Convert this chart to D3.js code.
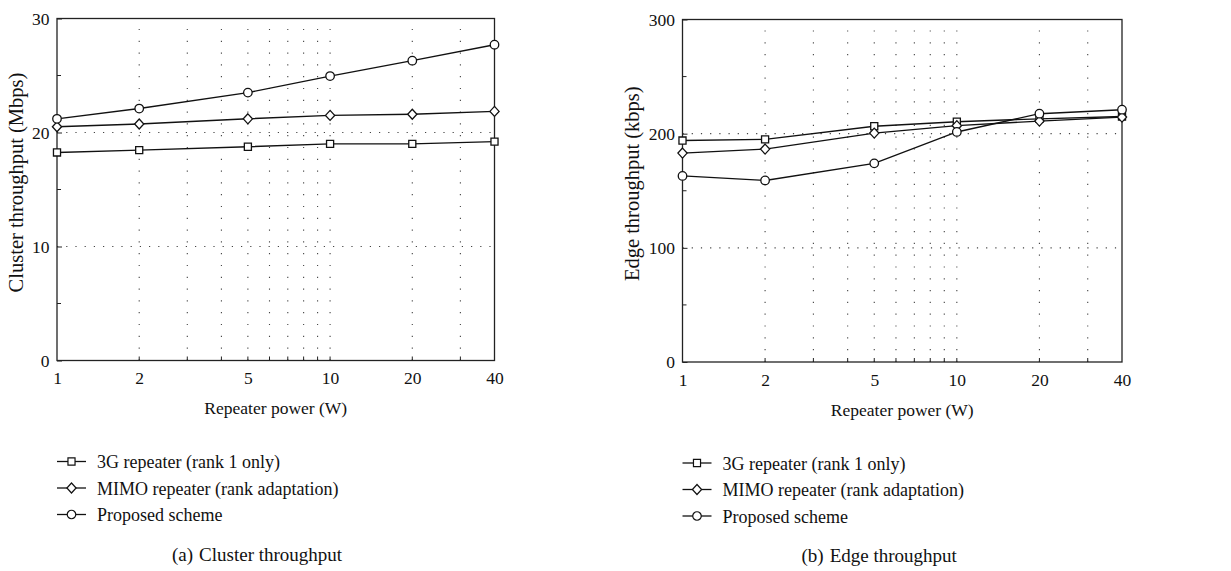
<!DOCTYPE html>
<html>
<head>
<meta charset="utf-8">
<script src="https://cdn.jsdelivr.net/npm/d3@7"></script>
<style>
  body { margin: 0; background: #fff; }
  svg { display: block; font-family: "Liberation Serif", "DejaVu Serif", serif; }
</style>
</head>
<body>
<svg id="chart" width="1231" height="571"></svg>
<script>
// repeater power (W)
var power = [1, 2, 5, 10, 20, 40];
var xTicks = [1, 2, 5, 10, 20, 40];
var xGrid = [2, 3, 4, 5, 6, 7, 8, 9, 10, 20, 30];

var seriesNames = ['3G repeater (rank 1 only)', 'MIMO repeater (rank adaptation)', 'Proposed scheme'];
var seriesSymbols = ['square', 'diamond', 'circle'];

// (a) cluster throughput, Mbps
var cluster3G = [18.25, 18.45, 18.75, 19.0, 19.0, 19.2];
var clusterMIMO = [20.5, 20.75, 21.2, 21.5, 21.6, 21.85];
var clusterProposed = [21.2, 22.1, 23.5, 24.95, 26.3, 27.7];
var clusterTicks = [0, 10, 20, 30];
var clusterMinor = [5, 15, 25];

// (b) edge throughput, kbps
var edge3G = [194, 195, 206.5, 210.5, 213, 215];
var edgeMIMO = [183, 186.5, 200.5, 207, 211, 214.5];
var edgeProposed = [163, 159, 174, 201.5, 217.5, 221];
var edgeTicks = [0, 100, 200, 300];
var edgeMinor = [50, 150, 250];

var svg = d3.select('#chart');

function symbolPath(type) {
  if (type === 'square') return d3.symbol().type(d3.symbolSquare).size(50)();
  if (type === 'diamond') return 'M0,-5L4.6,0L0,5L-4.6,0Z';
  return d3.symbol().type(d3.symbolCircle).size(57)();
}

function panel(opts) {
  var g = svg.append('g');
  var x = d3.scaleLog().domain([1, 40]).range([opts.left, opts.right]);
  var y = d3.scaleLinear().domain([opts.yTicks[0], opts.yTicks[opts.yTicks.length - 1]])
    .range([opts.bottom, opts.top]);

  // dotted grid
  g.append('g').selectAll('line').data(xGrid).enter().append('line')
    .attr('x1', d => x(d)).attr('x2', d => x(d))
    .attr('y1', opts.bottom).attr('y2', opts.top)
    .attr('stroke', '#444').attr('stroke-width', 1.1)
    .attr('stroke-dasharray', '1.2,10.6');
  g.append('g').selectAll('line').data(opts.yTicks.slice(1, -1)).enter().append('line')
    .attr('x1', opts.left).attr('x2', opts.right)
    .attr('y1', d => y(d)).attr('y2', d => y(d))
    .attr('stroke', '#444').attr('stroke-width', 1.1)
    .attr('stroke-dasharray', '1.2,8');

  // frame
  g.append('rect')
    .attr('x', opts.left).attr('y', opts.top)
    .attr('width', opts.right - opts.left).attr('height', opts.bottom - opts.top)
    .attr('fill', 'none').attr('stroke', '#222').attr('stroke-width', 1.3);

  // axes with inward ticks
  var yAxis = d3.axisLeft(y).tickValues(opts.yTicks).tickSizeInner(-5).tickSizeOuter(0).tickPadding(7.5);
  var ya = g.append('g').attr('transform', 'translate(' + opts.left + ',0)').call(yAxis);
  ya.select('.domain').remove();
  ya.selectAll('.tick line').attr('stroke', '#222');
  ya.selectAll('text').attr('font-size', 17.5).attr('fill', '#111').attr('font-family', 'Liberation Serif');
  g.append('g').selectAll('line').data(opts.yMinor).enter().append('line')
    .attr('x1', opts.left).attr('x2', opts.left + 4)
    .attr('y1', d => y(d)).attr('y2', d => y(d))
    .attr('stroke', '#222');

  var xAxis = d3.axisBottom(x).tickValues(xTicks).tickFormat(d3.format('d'))
    .tickSizeInner(0).tickSizeOuter(0).tickPadding(11.5);
  var xa = g.append('g').attr('transform', 'translate(0,' + opts.bottom + ')').call(xAxis);
  xa.select('.domain').remove();
  xa.selectAll('text').attr('font-size', 17.5).attr('fill', '#111').attr('font-family', 'Liberation Serif');
  g.append('g').selectAll('line').data(xGrid).enter().append('line')
    .attr('x1', d => x(d)).attr('x2', d => x(d))
    .attr('y1', opts.bottom).attr('y2', opts.bottom - 4)
    .attr('stroke', '#222');

  // axis titles
  g.append('text')
    .attr('x', (opts.left + opts.right) / 2).attr('y', opts.bottom + 53.5)
    .attr('text-anchor', 'middle').attr('font-size', 17.5).attr('fill', '#111')
    .text('Repeater power (W)');
  g.append('text')
    .attr('transform', 'translate(' + opts.yLabelX + ',' + ((opts.top + opts.bottom) / 2 - 7) + ') rotate(-90)')
    .attr('text-anchor', 'middle').attr('font-size', 20.5).attr('fill', '#111')
    .text(opts.yLabel);

  // series
  var line = d3.line().x((d, i) => x(power[i])).y(d => y(d));
  opts.series.forEach(function (vals) {
    g.append('path').datum(vals)
      .attr('d', line).attr('fill', 'none')
      .attr('stroke', '#111').attr('stroke-width', 1.4);
  });
  opts.series.forEach(function (vals, si) {
    g.append('g').selectAll('path').data(vals).enter().append('path')
      .attr('transform', (d, i) => 'translate(' + x(power[i]) + ',' + y(d) + ')')
      .attr('d', symbolPath(seriesSymbols[si]))
      .attr('fill', '#fff').attr('stroke', '#111').attr('stroke-width', 1.3);
  });

  // legend
  var lg = g.append('g').attr('transform', 'translate(' + opts.left + ',' + (opts.bottom + 101) + ')');
  seriesNames.forEach(function (name, i) {
    var row = lg.append('g').attr('transform', 'translate(0,' + (i * 26.5) + ')');
    row.append('line').attr('x1', 0).attr('x2', 29).attr('y1', 0).attr('y2', 0)
      .attr('stroke', '#111').attr('stroke-width', 1.3);
    row.append('path')
      .attr('d', symbolPath(seriesSymbols[i]))
      .attr('fill', '#fff').attr('stroke', '#111').attr('stroke-width', 1.2)
      .attr('transform', 'translate(14.5,0)');
    row.append('text').attr('x', 40).attr('y', 6.5)
      .attr('font-size', 18).attr('fill', '#111').text(name);
  });

  // caption
  var cap = g.append('text')
    .attr('x', opts.left + opts.captionDx).attr('y', opts.bottom + 200)
    .attr('font-size', 19).attr('fill', '#111');
  cap.append('tspan').text(opts.captionTag);
  cap.append('tspan').attr('dx', 6).text(opts.caption);
}

panel({
  left: 57, right: 494.5, top: 18.5, bottom: 360.5,
  yTicks: clusterTicks, yMinor: clusterMinor,
  yLabel: 'Cluster throughput (Mbps)', yLabelX: 23,
  series: [cluster3G, clusterMIMO, clusterProposed],
  captionTag: '(a)', caption: 'Cluster throughput', captionDx: 115
});

panel({
  left: 682.5, right: 1122, top: 19.5, bottom: 362,
  yTicks: edgeTicks, yMinor: edgeMinor,
  yLabel: 'Edge throughput (kbps)', yLabelX: 639,
  series: [edge3G, edgeMIMO, edgeProposed],
  captionTag: '(b)', caption: 'Edge throughput', captionDx: 119
});
</script>
</body>
</html>
